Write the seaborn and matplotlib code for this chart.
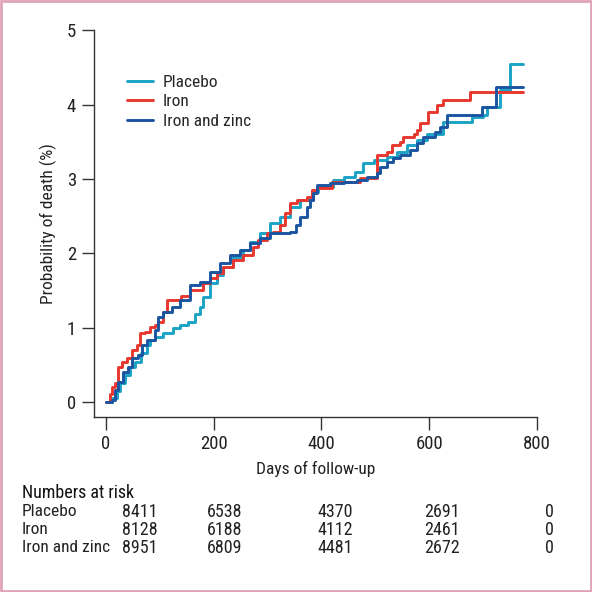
import pandas as pd
import matplotlib.pyplot as plt
import seaborn as sns
from matplotlib import font_manager
from matplotlib.patches import Rectangle

groups = ["Placebo", "Iron", "Iron and zinc"]
colors = ["#1ba3c6", "#e8372f", "#1a55a0"]

placebo_days = [0, 12, 20, 26, 35, 45, 54, 65, 77, 82, 91, 106, 125, 138, 153, 165,
                175, 181, 194, 206, 218, 236, 255, 268, 286, 305, 323, 342, 360, 385,
                394, 422, 441, 462, 478, 497, 522, 540, 558, 577, 596, 626, 679, 700,
                707, 732, 750, 775]
placebo_prob = [0, 0.05, 0.15, 0.25, 0.36, 0.47, 0.54, 0.66, 0.77, 0.83, 0.87, 0.93,
                0.99, 1.03, 1.08, 1.18, 1.28, 1.41, 1.6, 1.71, 1.81, 1.95, 2.04, 2.15,
                2.27, 2.4, 2.49, 2.62, 2.71, 2.82, 2.89, 2.98, 3.02, 3.09, 3.21, 3.25,
                3.29, 3.36, 3.45, 3.52, 3.61, 3.76, 3.83, 3.86, 3.97, 4.2, 4.55, 4.55]

iron_days = [0, 8, 12, 17, 23, 30, 39, 48, 58, 64, 73, 82, 91, 97, 106, 113, 140, 156,
             181, 194, 206, 218, 236, 255, 273, 283, 299, 310, 323, 333, 342, 354, 373,
             382, 392, 419, 472, 503, 522, 531, 546, 552, 571, 577, 583, 598, 614, 626,
             676, 775]
iron_prob = [0, 0.1, 0.2, 0.25, 0.47, 0.54, 0.59, 0.7, 0.77, 0.93, 0.94, 1.01, 1.03,
             1.08, 1.21, 1.37, 1.42, 1.5, 1.6, 1.67, 1.73, 1.81, 1.91, 1.98, 2.08, 2.18,
             2.27, 2.28, 2.38, 2.54, 2.67, 2.71, 2.76, 2.85, 2.88, 2.96, 3.01, 3.32,
             3.36, 3.45, 3.49, 3.56, 3.61, 3.66, 3.75, 3.9, 3.99, 4.06, 4.17, 4.17]

zinc_days = [0, 12, 17, 23, 32, 41, 48, 60, 67, 76, 91, 97, 106, 123, 138, 156, 175,
             194, 212, 230, 249, 268, 286, 305, 342, 352, 360, 373, 379, 385, 392, 416,
             441, 466, 484, 503, 509, 522, 533, 546, 564, 577, 589, 611, 620, 633, 698,
             724, 775]
zinc_prob = [0, 0.03, 0.16, 0.27, 0.4, 0.47, 0.59, 0.63, 0.77, 0.83, 0.97, 1.14, 1.21,
             1.28, 1.37, 1.57, 1.61, 1.75, 1.87, 1.98, 2.04, 2.14, 2.2, 2.27, 2.28, 2.38,
             2.49, 2.62, 2.71, 2.81, 2.92, 2.94, 2.96, 2.98, 3.02, 3.08, 3.16, 3.23,
             3.28, 3.32, 3.39, 3.48, 3.56, 3.63, 3.7, 3.86, 3.97, 4.23, 4.23]

at_risk = {
    "Placebo": [8411, 6538, 4370, 2691, 0],
    "Iron": [8128, 6188, 4112, 2461, 0],
    "Iron and zinc": [8951, 6809, 4481, 2672, 0],
}

df = pd.concat([
    pd.DataFrame({"day": placebo_days, "prob": placebo_prob, "group": "Placebo"}),
    pd.DataFrame({"day": iron_days, "prob": iron_prob, "group": "Iron"}),
    pd.DataFrame({"day": zinc_days, "prob": zinc_prob, "group": "Iron and zinc"}),
])

sns.set_theme(style="ticks")

# pick a narrow sans if one is installed
fonts = font_manager.fontManager.ttflist
names = {f.name for f in fonts}
family, stretch = "Roboto", "normal"
for cand in ["Liberation Sans Narrow", "Roboto Condensed", "Open Sans Condensed",
             "Noto Sans Condensed", "DejaVu Sans Condensed"]:
    if cand in names:
        family = cand
        break
else:
    for base in ["Noto Sans", "DejaVu Sans", "Open Sans"]:
        if any(f.name == base and str(f.stretch) in ("condensed", "semi-condensed")
               for f in fonts):
            family, stretch = base, "condensed"
            break
plt.rcParams["font.family"] = [family, "DejaVu Sans"]
plt.rcParams["font.stretch"] = stretch

fig = plt.figure(figsize=(5.92, 5.92), dpi=100)
ax = fig.add_axes([0.159, 0.296, 0.748, 0.653])

sns.lineplot(data=df, x="day", y="prob", hue="group", hue_order=groups,
             palette=colors, drawstyle="steps-post", linewidth=2.1,
             estimator=None, sort=False, ax=ax)

ax.set_xlim(-22, 800)
ax.set_ylim(-0.2, 5)
ax.set_xticks([0, 200, 400, 600, 800])
ax.set_yticks([0, 1, 2, 3, 4, 5])
ax.tick_params(axis="both", length=9, width=1, color="#333333",
               labelsize=13.5, labelcolor="#222222", pad=4)
for side in ["top", "right"]:
    ax.spines[side].set_visible(False)
for side in ["left", "bottom"]:
    ax.spines[side].set_color("#333333")
    ax.spines[side].set_linewidth(1)

ax.set_xlabel("Days of follow-up", fontsize=12.5, color="#222222", labelpad=6)
ax.set_ylabel("Probability of death (%)", fontsize=12.5, color="#222222", labelpad=7)

ax.legend(title=None, frameon=False, fontsize=12.5, loc="upper left",
          bbox_to_anchor=(0.038, 0.925), handlelength=1.5, handletextpad=0.6,
          labelspacing=0.25)

# numbers at risk table
col_x = [140, 225, 335, 442, 549]
fig.text(22 / 592, 1 - 493 / 592, "Numbers at risk", fontsize=13,
         color="#111111", va="center", ha="left")
row_y = [512, 530, 548]
for g, y in zip(groups, row_y):
    fig.text(22 / 592, 1 - y / 592, g, fontsize=12.5, color="#222222",
             va="center", ha="left")
    for cx, n in zip(col_x, at_risk[g]):
        fig.text(cx / 592, 1 - y / 592, str(n), fontsize=13, color="#222222",
                 va="center", ha="center")

fig.patches.append(Rectangle((0.002, 0.002), 0.996, 0.996, transform=fig.transFigure,
                             fill=False, edgecolor="#e0a2b9", linewidth=2))

fig.savefig("out.png", dpi=100)
